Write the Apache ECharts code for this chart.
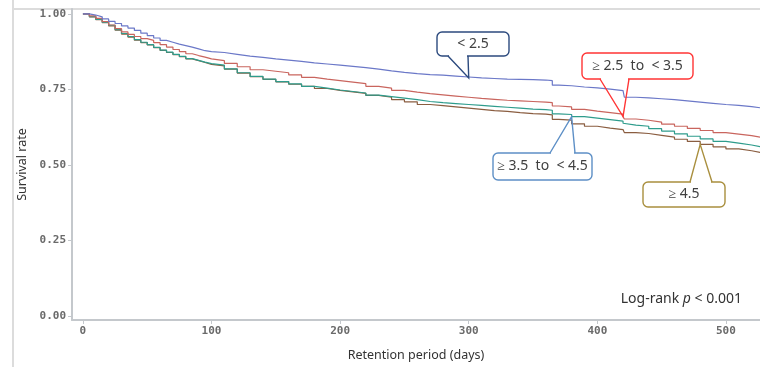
<!DOCTYPE html>
<html><head><meta charset="utf-8">
<script src="https://cdn.jsdelivr.net/npm/echarts@6/dist/echarts.min.js"></script>
<style>html,body{margin:0;padding:0;background:#fff}#c{width:760px;height:367px}</style>
</head><body><div id="c"></div>
<script>
const days = [0,5,10,15,20,25,30,35,40,45,50,55,60,65,70,75,80,85,90,95,100,110,120,130,140,150,160,170,180,190,200,210,220,230,240,250,260,270,280,290,300,310,320,330,340,350,360,365,370,380,390,400,410,420,421,430,440,450,460,470,480,490,500,510,520,527];
const survLt25 = [1.000,0.996,0.990,0.983,0.975,0.968,0.960,0.953,0.945,0.936,0.928,0.920,0.912,0.906,0.900,0.895,0.890,0.884,0.878,0.875,0.872,0.866,0.860,0.856,0.851,0.847,0.843,0.838,0.834,0.830,0.826,0.822,0.817,0.811,0.806,0.802,0.799,0.797,0.794,0.791,0.788,0.786,0.784,0.783,0.782,0.781,0.779,0.764,0.762,0.758,0.755,0.751,0.746,0.741,0.724,0.722,0.719,0.716,0.712,0.708,0.704,0.700,0.697,0.693,0.689,0.686];
const surv25to35 = [1.000,0.993,0.985,0.974,0.963,0.951,0.940,0.932,0.925,0.918,0.912,0.905,0.898,0.890,0.882,0.875,0.868,0.862,0.857,0.851,0.845,0.836,0.825,0.815,0.810,0.805,0.798,0.790,0.784,0.779,0.774,0.769,0.760,0.754,0.747,0.741,0.736,0.732,0.728,0.724,0.720,0.717,0.714,0.712,0.710,0.708,0.706,0.695,0.692,0.684,0.678,0.673,0.668,0.660,0.652,0.648,0.642,0.635,0.628,0.621,0.614,0.607,0.602,0.597,0.592,0.588];
const surv35to45 = [1.000,0.991,0.982,0.972,0.962,0.948,0.935,0.925,0.915,0.906,0.898,0.889,0.880,0.873,0.866,0.859,0.852,0.846,0.840,0.835,0.830,0.818,0.805,0.793,0.784,0.776,0.768,0.760,0.754,0.748,0.743,0.738,0.731,0.726,0.721,0.716,0.710,0.706,0.703,0.700,0.697,0.694,0.691,0.688,0.685,0.683,0.681,0.669,0.667,0.660,0.655,0.650,0.645,0.638,0.632,0.628,0.620,0.612,0.603,0.595,0.586,0.578,0.572,0.566,0.560,0.556];
const survGe45 = [1.000,0.990,0.981,0.971,0.960,0.946,0.933,0.923,0.913,0.905,0.897,0.888,0.879,0.872,0.865,0.858,0.851,0.845,0.839,0.833,0.828,0.817,0.804,0.792,0.783,0.775,0.767,0.760,0.753,0.747,0.742,0.737,0.730,0.724,0.716,0.709,0.700,0.696,0.692,0.688,0.684,0.680,0.677,0.673,0.670,0.668,0.666,0.651,0.648,0.636,0.628,0.622,0.617,0.611,0.607,0.604,0.598,0.592,0.585,0.578,0.568,0.560,0.553,0.547,0.541,0.536];
const groupLabels = ['< 2.5','≥ 2.5  to  < 3.5','≥ 3.5  to  < 4.5','≥ 4.5'];
const calloutDays = [300,420,380,480];
const xTicks = [0,100,200,300,400,500];
const yTicks = [0,0.25,0.5,0.75,1];

const colors = ['#6b78c8','#c9655e','#2e9c8c','#8a5d40'];
const boxColors = ['#2c4a7e','#ff3535','#5d8fc6','#a98f3e'];
const boxes = [
  {x:437,y:32,w:72,h:24,b1:448,b2:468,top:false},
  {x:582,y:53,w:111,h:26,b1:600,b2:629,top:false},
  {x:493,y:153,w:99,h:27,b1:550,b2:575,top:true},
  {x:643,y:182,w:82,h:25,b1:690,b2:712,top:true}
];
const allSeries = [survLt25,surv25to35,surv35to45,survGe45];

const chart = echarts.init(document.getElementById('c'),null,{renderer:'canvas'});
const axisCol = '#c4c8cc';
const tickFont = {fontFamily:'DejaVu Sans Mono',fontSize:11,fontWeight:'bold',color:'#6a6a6a'};
chart.setOption({
  animation:false,
  grid:{left:72,right:0,top:9,bottom:41},
  xAxis:{type:'value',min:-8.5,max:526.5,
    axisLine:{onZero:false,lineStyle:{color:axisCol,width:2}},
    axisTick:{show:true,length:4,customValues:xTicks,lineStyle:{color:axisCol}},
    axisLabel:Object.assign({customValues:xTicks,margin:6},tickFont),
    splitLine:{show:false},
    name:'Retention period (days)',nameLocation:'middle',nameGap:29,
    nameTextStyle:{fontFamily:'Noto Sans',fontSize:12.5,color:'#333'}},
  yAxis:{type:'value',min:-0.013,max:1.016,
    axisLine:{show:true,onZero:false,lineStyle:{color:axisCol,width:2}},
    axisTick:{show:true,length:4,customValues:yTicks,lineStyle:{color:axisCol}},
    axisLabel:Object.assign({customValues:yTicks,margin:6,formatter:v=>v.toFixed(2)},tickFont),
    splitLine:{show:false},
    name:'Survival rate',nameLocation:'middle',nameGap:40,
    nameTextStyle:{fontFamily:'Noto Sans',fontSize:12.5,color:'#333'}},
  series: allSeries.map((arr,i)=>({
    type:'line',step:'end',symbol:'none',
    data:days.map((d,j)=>[d,arr[j]]),
    lineStyle:{color:colors[i],width:1.2},z:10-i
  }))
});

const g = [
  {type:'line',shape:{x1:13,y1:0,x2:13,y2:367},style:{stroke:'#dcdcdc',lineWidth:2},silent:true},
  {type:'line',shape:{x1:13,y1:9,x2:760,y2:9},style:{stroke:'#dcdcdc',lineWidth:2},silent:true},
  {type:'text',right:18,top:292,style:{
    text:'{n|Log-rank }{p|p}{n| < 0.001}',
    rich:{n:{fontFamily:'Noto Sans',fontSize:14,fill:'#333'},p:{fontFamily:'Noto Sans',fontSize:14,fontStyle:'italic',fill:'#333'}}}}
];
boxes.forEach((b,i)=>{
  const j = days.indexOf(calloutDays[i]);
  const tip = chart.convertToPixel({seriesIndex:i},[calloutDays[i],allSeries[i][j]]);
  const by = b.top ? b.y : b.y + b.h;
  g.push({type:'rect',shape:{x:b.x,y:b.y,width:b.w,height:b.h,r:5},style:{fill:'#fff',stroke:boxColors[i],lineWidth:1.4},z:100});
  g.push({type:'line',shape:{x1:b.b1+1,y1:by,x2:b.b2-1,y2:by},style:{stroke:'#fff',lineWidth:3},z:101});
  g.push({type:'polyline',shape:{points:[[b.b1,by],tip,[b.b2,by]]},style:{stroke:boxColors[i],lineWidth:1.4,fill:null},z:102});
  g.push({type:'text',x:b.x+b.w/2,y:b.y+b.h/2,style:{text:groupLabels[i],fontFamily:'Noto Sans',fontSize:14,fill:'#404040',align:'center',verticalAlign:'middle'},z:103});
});
chart.setOption({graphic:g});
</script></body></html>
